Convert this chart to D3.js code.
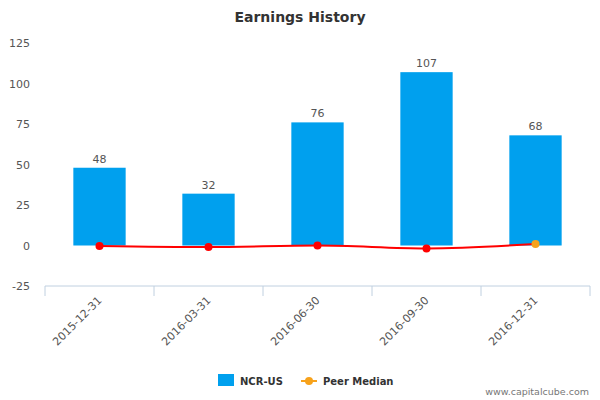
<!DOCTYPE html>
<html>
<head>
<meta charset="utf-8">
<script src="https://cdn.jsdelivr.net/npm/d3@7"></script>
<style>
  body { margin: 0; background: #fff; }
  svg { font-family: "DejaVu Sans", Verdana, sans-serif; }
</style>
</head>
<body>
<svg id="chart"></svg>
<script>
const width = 600;
const height = 400;

// chart data
const categories = ["2015-12-31", "2016-03-31", "2016-06-30", "2016-09-30", "2016-12-31"];
const earnings = [48, 32, 76, 107, 68];
const peerMedian = [-0.3, -1, 0, -1.8, 0.9];
const yTicks = [-25, 0, 25, 50, 75, 100, 125];

const margin = { left: 45, right: 10, top: 43, bottom: 114 };

const svg = d3.select("#chart")
  .attr("width", width)
  .attr("height", height);

const x = d3.scaleBand()
  .domain(categories)
  .range([margin.left, width - margin.right]);

const y = d3.scaleLinear()
  .domain([-25, 125])
  .range([height - margin.bottom, margin.top]);

// title
svg.append("text")
  .attr("x", width / 2)
  .attr("y", 22)
  .attr("text-anchor", "middle")
  .style("font-size", "14px")
  .style("font-weight", "bold")
  .style("fill", "#333")
  .text("Earnings History");

// y axis labels (no line, no grid)
svg.append("g")
  .selectAll("text")
  .data(yTicks)
  .join("text")
  .attr("x", 30)
  .attr("y", d => y(d) + 4)
  .attr("text-anchor", "end")
  .style("font-size", "11px")
  .style("fill", "#555")
  .text(d => d);

// x axis
const xAxis = svg.append("g")
  .attr("transform", `translate(0,${y(-25)})`);
xAxis.append("line")
  .attr("x1", margin.left).attr("x2", width - margin.right)
  .attr("stroke", "#C0D0E0");
xAxis.selectAll("line.tick")
  .data(categories.concat([null]))
  .join("line")
  .attr("class", "tick")
  .attr("x1", (d, i) => margin.left + i * x.bandwidth())
  .attr("x2", (d, i) => margin.left + i * x.bandwidth())
  .attr("y1", 0).attr("y2", 10)
  .attr("stroke", "#C0D0E0");
xAxis.selectAll("text")
  .data(categories)
  .join("text")
  .attr("transform", d => `translate(${x(d) + x.bandwidth() / 2 + 3},${15}) rotate(-45)`)
  .attr("text-anchor", "end")
  .style("font-size", "11px")
  .style("fill", "#555")
  .text(d => d);

// bars
const barW = x.bandwidth() * 0.48;
svg.append("g")
  .selectAll("rect")
  .data(earnings)
  .join("rect")
  .attr("x", (d, i) => x(categories[i]) + (x.bandwidth() - barW) / 2)
  .attr("y", d => y(d))
  .attr("width", barW)
  .attr("height", d => y(0) - y(d))
  .attr("fill", "#00A0EE");

// value labels
svg.append("g")
  .selectAll("text")
  .data(earnings)
  .join("text")
  .attr("x", (d, i) => x(categories[i]) + x.bandwidth() / 2)
  .attr("y", d => y(d) - 5)
  .attr("text-anchor", "middle")
  .style("font-size", "11px")
  .style("fill", "#555")
  .text(d => d);

// peer median line
const line = d3.line()
  .x((d, i) => x(categories[i]) + x.bandwidth() / 2)
  .y(d => y(d))
  .curve(d3.curveMonotoneX);

svg.append("path")
  .datum(peerMedian)
  .attr("d", line)
  .attr("fill", "none")
  .attr("stroke", "#FF0000")
  .attr("stroke-width", 2);

svg.append("g")
  .selectAll("circle")
  .data(peerMedian)
  .join("circle")
  .attr("cx", (d, i) => x(categories[i]) + x.bandwidth() / 2)
  .attr("cy", d => y(d))
  .attr("r", 4)
  .attr("fill", (d, i) => i === peerMedian.length - 1 ? "#F7A21B" : "#FF0000");

// legend
const legend = svg.append("g");
legend.append("rect")
  .attr("x", 218).attr("y", 374)
  .attr("width", 16).attr("height", 12)
  .attr("fill", "#00A0EE");
legend.append("text")
  .attr("x", 240).attr("y", 385)
  .style("font-size", "10px")
  .style("font-weight", "bold")
  .style("fill", "#333")
  .text("NCR-US");
legend.append("line")
  .attr("x1", 301).attr("x2", 317)
  .attr("y1", 381).attr("y2", 381)
  .attr("stroke", "#F7A21B")
  .attr("stroke-width", 2);
legend.append("circle")
  .attr("cx", 309).attr("cy", 381).attr("r", 4)
  .attr("fill", "#F7A21B");
legend.append("text")
  .attr("x", 323).attr("y", 385)
  .style("font-size", "10px")
  .style("font-weight", "bold")
  .style("fill", "#333")
  .text("Peer Median");

// credits
svg.append("text")
  .attr("x", 589).attr("y", 395)
  .attr("text-anchor", "end")
  .style("font-size", "9.5px")
  .style("fill", "#777")
  .text("www.capitalcube.com");
</script>
</body>
</html>
